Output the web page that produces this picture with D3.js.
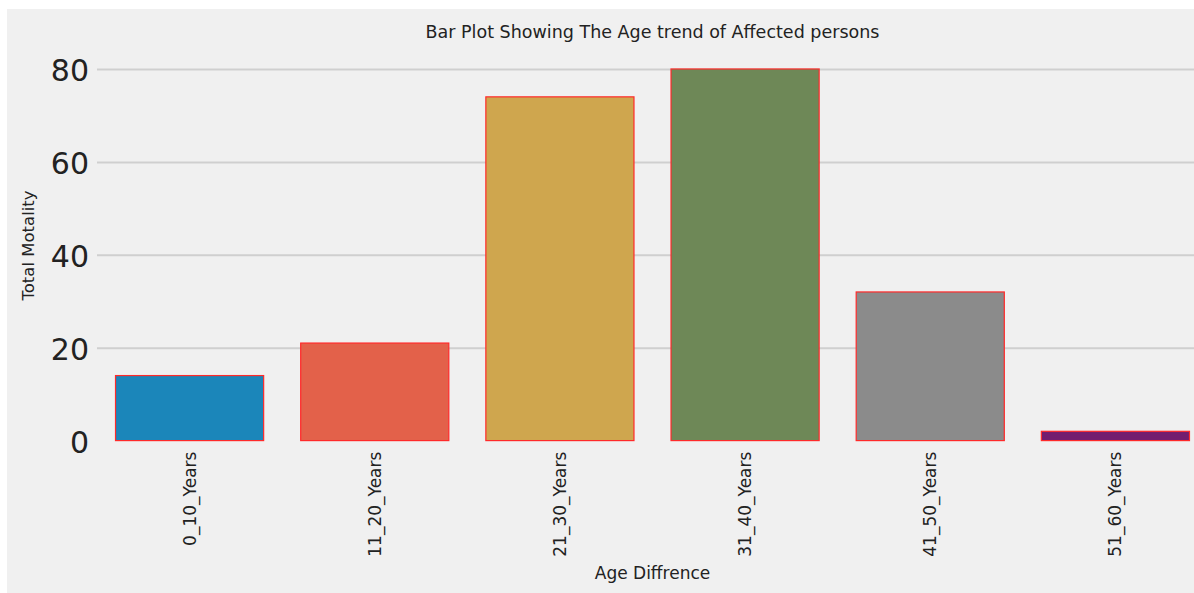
<!DOCTYPE html>
<html>
<head>
<meta charset="utf-8">
<script src="https://cdn.jsdelivr.net/npm/d3@7"></script>
<style>
  html, body { margin: 0; padding: 0; background: #ffffff; }
  svg { display: block; font-family: "DejaVu Sans", sans-serif; }
</style>
</head>
<body>
<svg id="chart" width="1194" height="593"></svg>
<script>
// ---- data ----
const categories = ["0_10_Years", "11_20_Years", "21_30_Years", "31_40_Years", "41_50_Years", "51_60_Years"];
const mortality = [14, 21, 74, 80, 32, 2];
const yTicks = [0, 20, 40, 60, 80];
const palette = ["#008fd5", "#fc4f30", "#e5ae38", "#6d904f", "#8b8b8b", "#810f7c"];
const titleText = "Bar Plot Showing The Age trend of Affected persons";
const xLabelText = "Age Diffrence";
const yLabelText = "Total Motality";

// ---- layout ----
const W = 1194, H = 593;
const plot = { left: 97, right: 1208, top: 50.4, bottom: 440.6 };

const svg = d3.select("#chart");

// figure background
svg.append("rect")
  .attr("x", 7).attr("y", 9)
  .attr("width", W - 7).attr("height", 584)
  .attr("fill", "#f0f0f0");

const x = d3.scaleBand()
  .domain(categories)
  .range([plot.left, plot.right])
  .paddingInner(0.2)
  .paddingOuter(0.1);

const y = d3.scaleLinear()
  .domain([0, 84])
  .range([plot.bottom, plot.top]);

// desaturate like seaborn (0.75)
const colors = palette.map(c => {
  const h = d3.hsl(c);
  h.s *= 0.75;
  return h.formatHex();
});

// y axis with gridlines
const yAxis = d3.axisLeft(y)
  .tickValues(yTicks)
  .tickSize(-(plot.right - plot.left))
  .tickPadding(8)
  .tickFormat(d3.format("d"));

const gy = svg.append("g")
  .attr("transform", `translate(${plot.left},0)`)
  .call(yAxis);
gy.select(".domain").remove();
gy.selectAll(".tick line")
  .attr("stroke", "#cfcfcf")
  .attr("stroke-width", 2)
  .attr("opacity", d => d === 0 ? 0 : 1);
gy.selectAll(".tick text")
  .attr("font-family", "DejaVu Sans, sans-serif")
  .attr("font-size", 30)
  .attr("fill", "#222222")
  .attr("dy", "0.38em");

// bars
svg.append("g")
  .selectAll("rect")
  .data(categories)
  .join("rect")
  .attr("x", d => x(d))
  .attr("width", x.bandwidth())
  .attr("y", (d, i) => y(mortality[i]))
  .attr("height", (d, i) => y(0) - y(mortality[i]))
  .attr("fill", (d, i) => colors[i])
  .attr("stroke", "#ff2a2a")
  .attr("stroke-width", 1.2);

// x axis labels
const xAxis = d3.axisBottom(x).tickSize(0).tickPadding(0);
const gx = svg.append("g")
  .attr("transform", `translate(0,${plot.bottom})`)
  .call(xAxis);
gx.select(".domain").remove();
gx.selectAll(".tick text")
  .attr("font-family", "DejaVu Sans, sans-serif")
  .attr("font-size", 17)
  .attr("fill", "#222222")
  .attr("text-anchor", "end")
  .attr("transform", "rotate(-90)")
  .attr("x", -11)
  .attr("y", 0)
  .attr("dy", "0.35em");

// title
svg.append("text")
  .attr("x", (plot.left + plot.right) / 2)
  .attr("y", 38)
  .attr("text-anchor", "middle")
  .attr("font-size", 17.5)
  .attr("fill", "#222222")
  .text(titleText);

// x label
svg.append("text")
  .attr("x", (plot.left + plot.right) / 2)
  .attr("y", 579)
  .attr("text-anchor", "middle")
  .attr("font-size", 17)
  .attr("fill", "#222222")
  .text(xLabelText);

// y label
svg.append("text")
  .attr("transform", `translate(34,${(plot.top + plot.bottom) / 2}) rotate(-90)`)
  .attr("text-anchor", "middle")
  .attr("font-size", 16.5)
  .attr("fill", "#222222")
  .text(yLabelText);
</script>
</body>
</html>
